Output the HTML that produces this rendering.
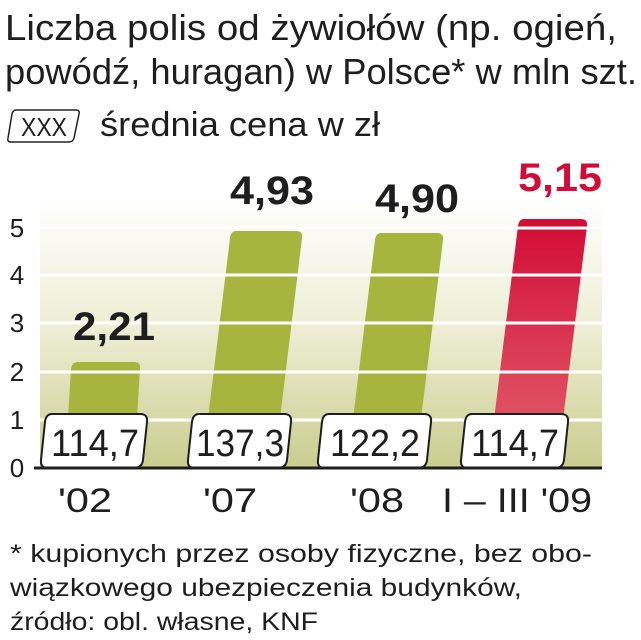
<!DOCTYPE html>
<html><head><meta charset="utf-8"><style>
html,body{margin:0;padding:0;background:#fff;width:641px;height:640px;overflow:hidden}
svg{display:block}
text{font-family:"Liberation Sans",sans-serif;fill:#1e1e1e}
</style></head><body>
<svg width="641" height="640" viewBox="0 0 641 640" xmlns="http://www.w3.org/2000/svg">
<defs>
<linearGradient id="bg" x1="0" y1="0" x2="0" y2="1">
<stop offset="0" stop-color="#ffffff"/><stop offset="0.5" stop-color="#ecedd2"/><stop offset="1" stop-color="#c9cd8e"/>
</linearGradient>
<linearGradient id="red" x1="0" y1="0" x2="0" y2="1">
<stop offset="0" stop-color="#d20c36"/><stop offset="1" stop-color="#e2646e"/>
</linearGradient>
</defs>
<text x="5" y="40" font-size="36" textLength="612" lengthAdjust="spacingAndGlyphs">Liczba polis od żywiołów (np. ogień,</text>
<text x="5" y="84" font-size="36" textLength="632" lengthAdjust="spacingAndGlyphs">powódź, huragan) w Polsce* w mln szt.</text>
<path d="M16 110 H76 Q80 110 79 114 L74 138 Q73 142 69 142 H11 Q7 142 8 138 L12 114 Q13 110 16 110 Z" fill="#fff" stroke="#222" stroke-width="1.5"/>
<text x="44" y="136" font-size="26" text-anchor="middle" textLength="46" lengthAdjust="spacingAndGlyphs">XXX</text>
<text x="100" y="136" font-size="34" textLength="280" lengthAdjust="spacingAndGlyphs">średnia cena w zł</text>

<rect x="40" y="197" width="562" height="271" fill="url(#bg)"/>
<path d="M78 362 H134 Q141 362 140 369 L134 468 H65 L71 369 Q72 362 78 362 Z" fill="#a5b53e"/>
<path d="M236 231 H296 Q303 231 302 238 L274 468 H202 L230 238 Q231 231 236 231 Z" fill="#a5b53e"/>
<path d="M381 233 H437 Q444 233 443 240 L415 468 H347 L375 240 Q376 233 381 233 Z" fill="#a5b53e"/>
<path d="M524 219 H581 Q588 219 587 226 L557 468 H488 L518 226 Q519 219 524 219 Z" fill="url(#red)"/>
<g stroke="#fff" stroke-width="3">
<line x1="40" y1="228" x2="602" y2="228"/><line x1="40" y1="275" x2="602" y2="275"/>
<line x1="40" y1="323" x2="602" y2="323"/><line x1="40" y1="372" x2="602" y2="372"/>
<line x1="40" y1="420" x2="602" y2="420"/>
</g>
<g font-size="26" fill="#333" text-anchor="middle">
<text x="17" y="237">5</text><text x="17" y="284">4</text><text x="17" y="332">3</text>
<text x="17" y="381">2</text><text x="17" y="429">1</text><text x="17" y="477">0</text>
</g>
<g fill="#fff" stroke="#1e1e1e" stroke-width="2">
<path d="M52 414 H140 Q148 414 147 422 L143 460 Q142 468 134 468 H48 Q40 468 41 460 L45 422 Q46 414 52 414 Z"/>
<path d="M199 414 H284 Q292 414 291 422 L287 460 Q286 468 278 468 H195 Q187 468 188 460 L192 422 Q193 414 199 414 Z"/>
<path d="M329 414 H424 Q432 414 431 422 L427 460 Q426 468 418 468 H325 Q317 468 318 460 L322 422 Q323 414 329 414 Z"/>
<path d="M472 414 H561 Q569 414 568 422 L564 460 Q563 468 555 468 H468 Q460 468 461 460 L465 422 Q466 414 472 414 Z"/>
</g>
<line x1="34" y1="468" x2="602" y2="468" stroke="#1e1e1e" stroke-width="3"/>
<g font-size="38" text-anchor="middle">
<text x="95" y="456" textLength="88" lengthAdjust="spacingAndGlyphs">114,7</text>
<text x="240" y="456" textLength="88" lengthAdjust="spacingAndGlyphs">137,3</text>
<text x="375" y="456" textLength="90" lengthAdjust="spacingAndGlyphs">122,2</text>
<text x="515" y="456" textLength="88" lengthAdjust="spacingAndGlyphs">114,7</text>
</g>
<g font-size="40" font-weight="bold" text-anchor="middle">
<text x="114" y="340" textLength="82" lengthAdjust="spacingAndGlyphs">2,21</text>
<text x="272" y="204" textLength="84" lengthAdjust="spacingAndGlyphs">4,93</text>
<text x="417" y="212" textLength="84" lengthAdjust="spacingAndGlyphs">4,90</text>
<text x="560" y="191" textLength="84" lengthAdjust="spacingAndGlyphs" style="fill:#d20c36">5,15</text>
</g>
<g font-size="34" text-anchor="middle">
<text x="85" y="512" textLength="54" lengthAdjust="spacingAndGlyphs">'02</text>
<text x="230" y="512" textLength="54" lengthAdjust="spacingAndGlyphs">'07</text>
<text x="377" y="512" textLength="54" lengthAdjust="spacingAndGlyphs">'08</text>
<text x="517" y="512" textLength="150" lengthAdjust="spacingAndGlyphs">I – III '09</text>
</g>
<g font-size="25">
<text x="10" y="562" textLength="582" lengthAdjust="spacingAndGlyphs">* kupionych przez osoby fizyczne, bez obo-</text>
<text x="10" y="596" textLength="512" lengthAdjust="spacingAndGlyphs">wiązkowego ubezpieczenia budynków,</text>
<text x="10" y="630" textLength="308" lengthAdjust="spacingAndGlyphs">źródło: obl. własne, KNF</text>
</g>
</svg>
</body></html>
